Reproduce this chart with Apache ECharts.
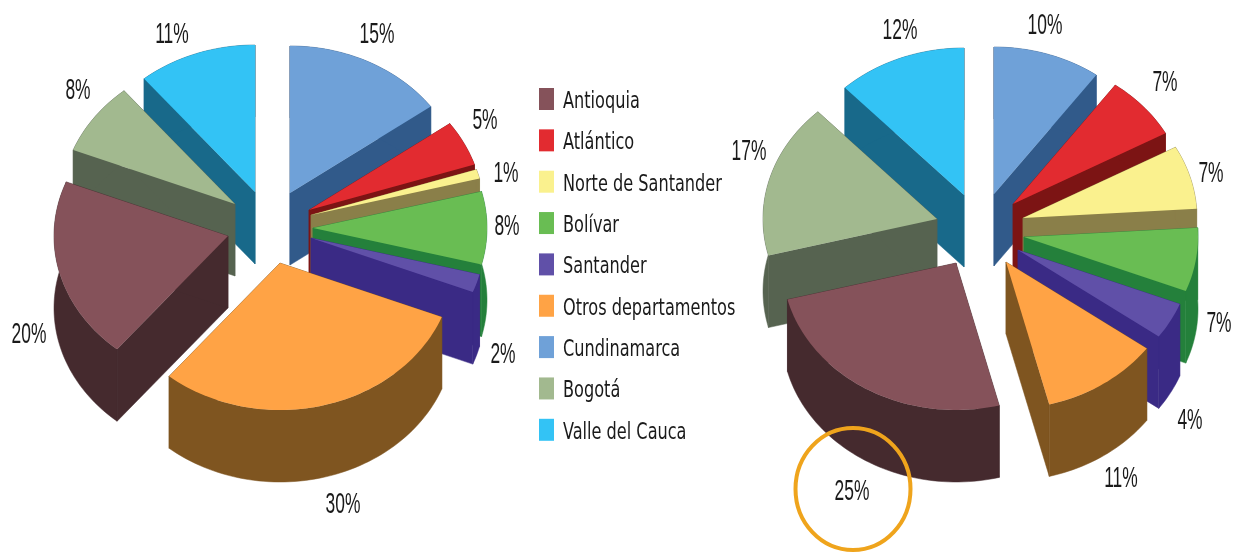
<!DOCTYPE html>
<html>
<head>
<meta charset="utf-8">
<style>
html, body { margin: 0; padding: 0; background: #fff; }
#chart { width: 1234px; height: 552px; }
</style>
<script src="https://cdn.jsdelivr.net/npm/echarts@6/dist/echarts.min.js"></script>
</head>
<body>
<div id="chart"></div>
<script>
// legend order
const categories = ['Antioquia', 'Atlántico', 'Norte de Santander', 'Bolívar', 'Santander',
    'Otros departamentos', 'Cundinamarca', 'Bogotá', 'Valle del Cauca'];
const leftShares = [20, 5, 1, 8, 2, 30, 15, 8, 11];
const rightShares = [25, 7, 7, 7, 4, 11, 10, 17, 12];

// slices go clockwise from 12 o'clock in this order (indexes into categories)
const clockwiseOrder = [6, 1, 2, 3, 4, 5, 0, 7, 8];

const topColors = ['#85525a', '#e22b30', '#faf18e', '#69bd53', '#6050a8', '#ffa345', '#6fa1d8', '#a2b98f', '#33c3f5'];
const wallColors = ['#452a2e', '#7c1414', '#8a7f49', '#24803b', '#3a2a85', '#7f5520', '#315a8a', '#566350', '#18698a'];

const radiusX = 174;
const radiusY = 147;
const depth = 72;

const pies = [
    {
        shares: leftShares,
        center: [273, 225],
        explode: [[-45, 11], [36, -15], [38, -10], [40, 3], [38, 13], [7, 38], [17, -32], [-38, -21], [-18, -33]],
        labels: [[29, 335], [485, 121], [506, 174], [507, 227], [503, 355], [343, 505], [377, 35], [78, 91], [172, 35]],
        drawOrder: [6, 1, 2, 3, 4, 8, 7, 0, 5]
    },
    {
        shares: rightShares,
        center: [980, 225],
        explode: [[-24, 38], [33, -21], [43, -7], [44, 12], [38, 25], [26, 37], [14, -31], [-43, -6], [-16, -30]],
        labels: [[852, 492], [1165, 83], [1211, 174], [1219, 324], [1190, 421], [1121, 479], [1045, 26], [749, 152], [900, 31]],
        drawOrder: [6, 1, 2, 3, 4, 5, 8, 7, 0]
    }
];

// start of a slice, in percent from 12 o'clock
function startOf(shares, catIndex) {
    let sum = 0;
    for (const i of clockwiseOrder) {
        if (i === catIndex) break;
        sum += shares[i];
    }
    return sum;
}

function down(p) {
    return [p[0], p[1] + depth];
}

function renderSlice(pie, catIndex, api) {
    const share = api.value(0);
    const start = api.value(1);
    const from = echarts.number.linearMap(start, [0, 100], [0, Math.PI * 2]);
    const to = echarts.number.linearMap(start + share, [0, 100], [0, Math.PI * 2]);
    const apex = [pie.center[0] + pie.explode[catIndex][0], pie.center[1] + pie.explode[catIndex][1]];

    const arc = [];
    const steps = Math.max(2, Math.ceil((to - from) / 0.03));
    for (let i = 0; i <= steps; i++) {
        const a = from + (to - from) * i / steps;
        arc.push([apex[0] + radiusX * Math.sin(a), apex[1] - radiusY * Math.cos(a)]);
    }
    const first = arc[0];
    const last = arc[arc.length - 1];
    const wallStyle = {fill: wallColors[catIndex], stroke: wallColors[catIndex], lineWidth: 0.5};

    const children = [
        // two cut faces and the outer wall, the top face hides whatever points backwards
        {type: 'polygon', shape: {points: [apex, first, down(first), down(apex)]}, style: wallStyle},
        {type: 'polygon', shape: {points: [apex, last, down(last), down(apex)]}, style: wallStyle},
        {type: 'polygon', shape: {points: arc.concat(arc.map(down).reverse())}, style: wallStyle},
        {type: 'polygon', shape: {points: [apex].concat(arc)}, style: {fill: topColors[catIndex]}},
        {
            type: 'text',
            x: pie.labels[catIndex][0],
            y: pie.labels[catIndex][1],
            scaleX: 0.58,
            style: {
                text: share + '%',
                font: '30px "Liberation Sans", sans-serif',
                fill: '#1a1a1a',
                textAlign: 'center',
                textVerticalAlign: 'middle'
            }
        }
    ];
    return {type: 'group', children: children};
}

const series = [];
pies.forEach(pie => {
    pie.drawOrder.forEach(catIndex => {
        series.push({
            type: 'custom',
            name: categories[catIndex],
            coordinateSystem: 'none',
            silent: true,
            animation: false,
            itemStyle: {color: topColors[catIndex]},
            data: [[pie.shares[catIndex], startOf(pie.shares, catIndex)]],
            renderItem: (params, api) => renderSlice(pie, catIndex, api)
        });
    });
});

// legend text is squeezed in the original, the legend component can't scale text
const legendTexts = categories.map((name, i) => ({
    type: 'text',
    x: 563,
    y: 102 + i * 41.35,
    scaleX: 0.78,
    style: {
        text: name,
        font: '23px "DejaVu Sans Condensed", "DejaVu Sans", sans-serif',
        fill: '#1a1a1a',
        textVerticalAlign: 'middle'
    }
}));

const chart = echarts.init(document.getElementById('chart'), null, {renderer: 'canvas'});
chart.setOption({
    backgroundColor: '#fff',
    animation: false,
    legend: {
        data: categories,
        orient: 'vertical',
        left: 539,
        top: 88,
        padding: 0,
        icon: 'rect',
        itemWidth: 15,
        itemHeight: 22,
        itemGap: 19.35,
        selectedMode: false,
        formatter: () => ' ',
        textStyle: {fontSize: 10}
    },
    graphic: legendTexts.concat([{
        type: 'ellipse',
        z: 100,
        shape: {cx: 853, cy: 489, rx: 57.5, ry: 61},
        style: {fill: 'none', stroke: '#efa41c', lineWidth: 4}
    }]),
    series: series
});
</script>
</body>
</html>
